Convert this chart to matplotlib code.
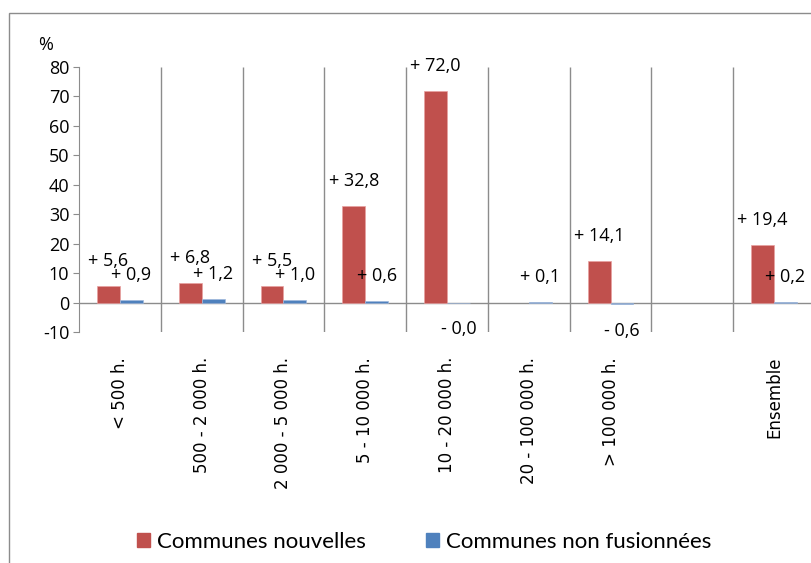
import numpy as np
import matplotlib.pyplot as plt
from matplotlib.patches import Rectangle, Patch

# Data (variation in %, by commune size class)
categories = ["< 500 h.", "500 - 2 000 h.", "2 000 - 5 000 h.", "5 - 10 000 h.",
              "10 - 20 000 h.", "20 - 100 000 h.", "> 100 000 h.", "", "Ensemble"]
nouvelles = [5.6, 6.8, 5.5, 32.8, 72.0, np.nan, 14.1, np.nan, 19.4]
non_fusionnees = [0.9, 1.2, 1.0, 0.6, -0.02, 0.1, -0.6, np.nan, 0.2]
yticks = list(range(-10, 81, 10))

RED = "#C0504D"
BLUE = "#4F81BD"
GRID = "#8C8C8C"
FONT = "Open Sans"


def fmt(v):
    sign = "+" if v >= 0 else "-"
    return f"{sign} {abs(v):.1f}".replace(".", ",")


fig = plt.figure(figsize=(8.12, 5.63), dpi=100)
ax = fig.add_axes([79 / 812, 231 / 563, 736 / 812, 265 / 563])

x = np.arange(len(categories))
w = 0.28
ax.bar(x - w / 2, nouvelles, w, color=RED, edgecolor="#E8A0A0", linewidth=0.5)
ax.bar(x + w / 2, non_fusionnees, w, color=BLUE, edgecolor="#A0B8DC", linewidth=0.5)

# data labels
for xs, vals in [(x - w / 2, nouvelles), (x + w / 2, non_fusionnees)]:
    for xi, v in zip(xs, vals):
        if np.isnan(v):
            continue
        off = 18 if v >= 0 else -19
        ax.annotate(fmt(v), (xi, v), xytext=(0, off), textcoords="offset points",
                    ha="center", va="center", fontsize=13, family=FONT)

ax.set_xlim(-0.5, len(categories) - 0.5)
ax.set_ylim(-10, 80)
ax.set_yticks(yticks)
ax.set_yticklabels([str(t) for t in yticks], fontsize=13, family=FONT)

ax.set_xticks(x)
ax.set_xticklabels(categories, rotation=90, fontsize=12, family="DejaVu Sans")
ax.tick_params(axis="x", length=0, pad=18)
ax.tick_params(axis="y", length=4, color=GRID, direction="out", pad=3)

for s in ["top", "right", "bottom"]:
    ax.spines[s].set_visible(False)
ax.spines["left"].set_color(GRID)
ax.axhline(0, color=GRID, linewidth=1, zorder=0.5)
ax.vlines(x[:-1] + 0.5, -10, 80, color=GRID, linewidth=1, zorder=0.5)

fig.text(46 / 812, 1 - 45 / 563, "%", ha="center", va="center", fontsize=13, family=FONT)

# outer chart border
fig.patches.append(Rectangle((9 / 812, -0.1), 1.2, 1 - 13 / 563 + 0.1, transform=fig.transFigure,
                             fill=False, edgecolor=GRID, linewidth=1))

handles = [Patch(color=RED, label="Communes nouvelles"),
           Patch(color=BLUE, label="Communes non fusionnées")]
fig.legend(handles=handles, loc="center", bbox_to_anchor=(0.522, 1 - 542 / 563), ncol=2,
           frameon=False, handlelength=0.6, handleheight=0.6, handletextpad=0.3,
           columnspacing=2.7, prop={"family": "Lato", "size": 16})

fig.savefig("out.png", dpi=100)
